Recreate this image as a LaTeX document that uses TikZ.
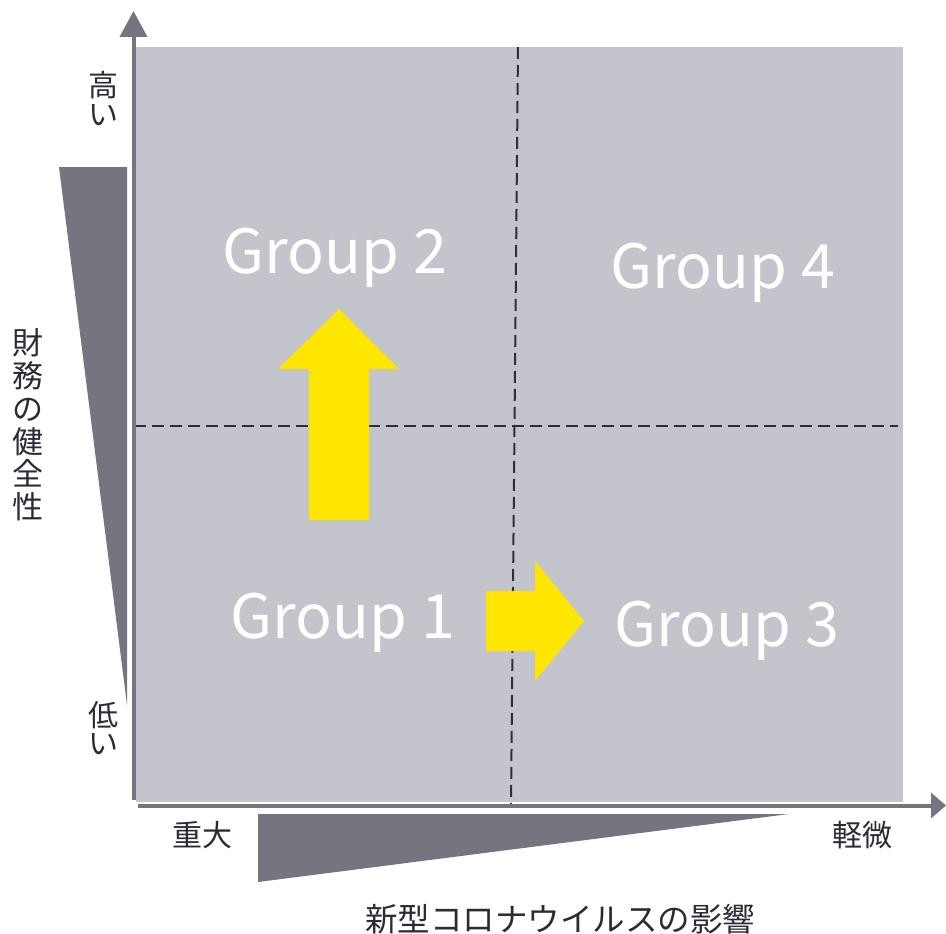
\documentclass[tikz,border=0pt]{standalone}
\usepackage{fontspec}
\setmainfont{Noto Sans CJK JP}
\usetikzlibrary{arrows.meta}
\definecolor{panel}{HTML}{C4C4CC}
\definecolor{axisgray}{HTML}{75757F}
\definecolor{dashcol}{HTML}{2E2E3A}
\definecolor{arrowyellow}{HTML}{FFE600}
\definecolor{txt}{HTML}{2B2B35}
\tikzset{
  axisline/.style={draw=axisgray, line width=4pt},
  wedge/.style={fill=axisgray, draw=none},
  divider/.style={draw=dashcol, line width=2pt, dash pattern=on 12pt off 6pt},
  movearrow/.style={fill=arrowyellow, draw=none},
  grouplabel/.style={text=white, inner sep=0pt, anchor=base, font=\fontsize{61}{70}\selectfont},
  jplabel/.style={text=txt, inner sep=0pt, font=\fontsize{30}{30}\selectfont},
}
\begin{document}
\begin{tikzpicture}[x=1pt,y=-1pt]
\useasboundingbox (0,0) rectangle (946,934);
% panel
\fill[panel] (136,47) rectangle (903,802);
% dashed dividers
\coordinate (vtop) at (518,47);
\coordinate (vbot) at (511,805);
\coordinate (hl) at (134,426);
\coordinate (hr) at (898,426);
\draw[divider] (vtop) -- (vbot);
\draw[divider] (hl) -- (hr);
% axes
\coordinate (yo) at (133.5,800);
\coordinate (ytip) at (133.5,11);
\coordinate (xo) at (138,805.5);
\coordinate (xtip) at (946,805.5);
\draw[axisline, -{Triangle[length=26pt,width=27pt]}] (yo) -- (ytip);
\draw[axisline, -{Triangle[length=15pt,width=25pt]}] (xo) -- (xtip);
% wedges
\path[wedge] (59,167) -- (127,167) -- (127,705) -- cycle;
\path[wedge] (258,814) -- (789,814) -- (258,882) -- cycle;
% yellow arrows
\path[movearrow] (309,520) -- (369,520) -- (369,369) -- (399,369) -- (339,309) -- (278,369) -- (309,369) -- cycle;
\path[movearrow] (486,591) -- (535,591) -- (535,561) -- (584,621) -- (535,681) -- (535,651) -- (486,651) -- cycle;
% group labels
\node[grouplabel] (g2) at (335,273) {Group 2};
\node[grouplabel] (g4) at (723,288) {Group 4};
\node[grouplabel] (g1) at (343,638) {Group 1};
\node[grouplabel] (g3) at (727,646) {Group 3};
% axis labels
\node[jplabel, align=center, font=\fontsize{30}{29}\selectfont] (high) at (103,98.5) {高\\い};
\node[jplabel, align=center, font=\fontsize{30}{28}\selectfont] (low) at (103,728) {低\\い};
\node[jplabel, align=center, font=\fontsize{31}{32.8}\selectfont] (ylab) at (28,425) {財\\務\\の\\健\\全\\性};
\node[jplabel, anchor=base] (severe) at (202,846) {重大};
\node[jplabel, anchor=base] (mild) at (862,846) {軽微};
\node[jplabel, anchor=base, font=\fontsize{32.5}{33}\selectfont] (xlab) at (560,931) {新型コロナウイルスの影響};
\end{tikzpicture}
\end{document}
